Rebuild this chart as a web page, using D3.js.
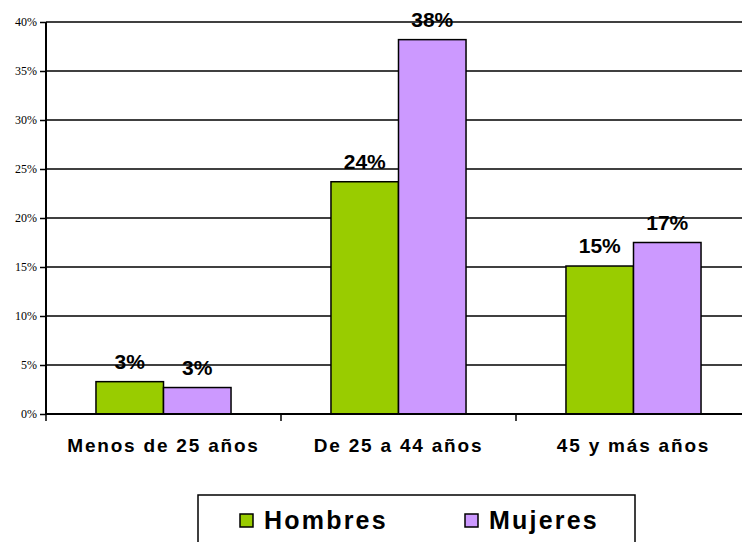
<!DOCTYPE html>
<html><head><meta charset="utf-8">
<script src="https://cdn.jsdelivr.net/npm/d3@7"></script>
<style>body{margin:0;background:#fff;} svg{display:block;}</style>
</head><body>
<svg id="c" width="742" height="542"></svg>
<script>
const categories = ["Menos de 25 años", "De 25 a 44 años", "45 y más años"];
const seriesNames = ["Hombres", "Mujeres"];
const hombres = [3.3, 23.7, 15.1];
const mujeres = [2.7, 38.2, 17.5];
const hombresLabels = ["3%", "24%", "15%"];
const mujeresLabels = ["3%", "38%", "17%"];
const yTicks = [0, 5, 10, 15, 20, 25, 30, 35, 40];
const colors = ["#99cc00", "#cc99ff"];

const svg = d3.select("#c");
const pLeft = 46, pRight = 751, pTop = 22, pBottom = 414;
const x = d3.scaleBand().domain(categories).range([pLeft, pRight]).paddingInner(0).paddingOuter(0);
const x1 = d3.scaleBand().domain(seriesNames).range([0, x.bandwidth()]).paddingInner(0).paddingOuter(0.74);
const y = d3.scaleLinear().domain([0, 40]).range([pBottom, pTop]);

// gridlines
svg.append("g").selectAll("line").data(yTicks.filter(d => d > 0)).join("line")
  .attr("x1", pLeft).attr("x2", 742).attr("y1", d => y(d)).attr("y2", d => y(d))
  .attr("stroke", "#000").attr("stroke-width", 1.5);

// y axis
const ya = svg.append("g").attr("transform", `translate(${pLeft},0)`)
  .call(d3.axisLeft(y).tickValues(yTicks).tickFormat(d => d + "%").tickSize(6).tickPadding(3));
ya.select(".domain").remove();
ya.selectAll(".tick line").attr("stroke", "#000").attr("stroke-width", 1.5);
ya.selectAll("text").attr("font-family", "Liberation Serif, Times New Roman, serif").attr("font-size", 12).attr("fill", "#000");
svg.append("line").attr("x1", pLeft).attr("x2", pLeft).attr("y1", pTop).attr("y2", pBottom + 1)
  .attr("stroke", "#000").attr("stroke-width", 2);

const data = categories.map((c, i) => ({c, vals: [
  {s: seriesNames[0], v: hombres[i], l: hombresLabels[i]},
  {s: seriesNames[1], v: mujeres[i], l: mujeresLabels[i]}]}));

const g = svg.append("g").selectAll("g").data(data).join("g")
  .attr("transform", d => `translate(${x(d.c)},0)`);
g.selectAll("rect").data(d => d.vals).join("rect")
  .attr("x", d => x1(d.s)).attr("width", x1.bandwidth())
  .attr("y", d => y(d.v)).attr("height", d => y(0) - y(d.v))
  .attr("fill", (d, i) => colors[i]).attr("stroke", "#000").attr("stroke-width", 1.5);
g.selectAll("text").data(d => d.vals).join("text")
  .attr("x", d => x1(d.s) + x1.bandwidth() / 2).attr("y", d => y(d.v) - 13)
  .attr("text-anchor", "middle").attr("font-family", "Liberation Sans, Arial, sans-serif")
  .attr("font-weight", "bold").attr("font-size", 21).attr("fill", "#000").text(d => d.l);

// x axis
svg.append("line").attr("x1", pLeft).attr("x2", 742).attr("y1", pBottom).attr("y2", pBottom)
  .attr("stroke", "#000").attr("stroke-width", 2);
svg.append("g").selectAll("line").data(categories).join("line")
  .attr("x1", d => x(d)).attr("x2", d => x(d)).attr("y1", pBottom).attr("y2", pBottom + 7)
  .attr("stroke", "#000").attr("stroke-width", 1.5);
svg.append("g").selectAll("text").data(categories).join("text")
  .attr("x", d => x(d) + x.bandwidth() / 2).attr("y", 452)
  .attr("text-anchor", "middle").attr("font-family", "Liberation Sans, Arial, sans-serif")
  .attr("font-weight", "bold").attr("font-size", 19).attr("letter-spacing", 1.8).attr("fill", "#000").text(d => d);

// legend
const lg = svg.append("g");
lg.append("rect").attr("x", 198).attr("y", 495).attr("width", 437).attr("height", 60)
  .attr("fill", "#fff").attr("stroke", "#000").attr("stroke-width", 1.5);
const lx = [240, 465];
seriesNames.forEach((s, i) => {
  lg.append("rect").attr("x", lx[i]).attr("y", 514).attr("width", 13).attr("height", 13)
    .attr("fill", colors[i]).attr("stroke", "#000").attr("stroke-width", 1.5);
  lg.append("text").attr("x", lx[i] + 24).attr("y", 529)
    .attr("font-family", "Liberation Sans, Arial, sans-serif").attr("font-weight", "bold")
    .attr("font-size", 25).attr("letter-spacing", 2.2).attr("fill", "#000").text(s);
});
</script>
</body></html>
